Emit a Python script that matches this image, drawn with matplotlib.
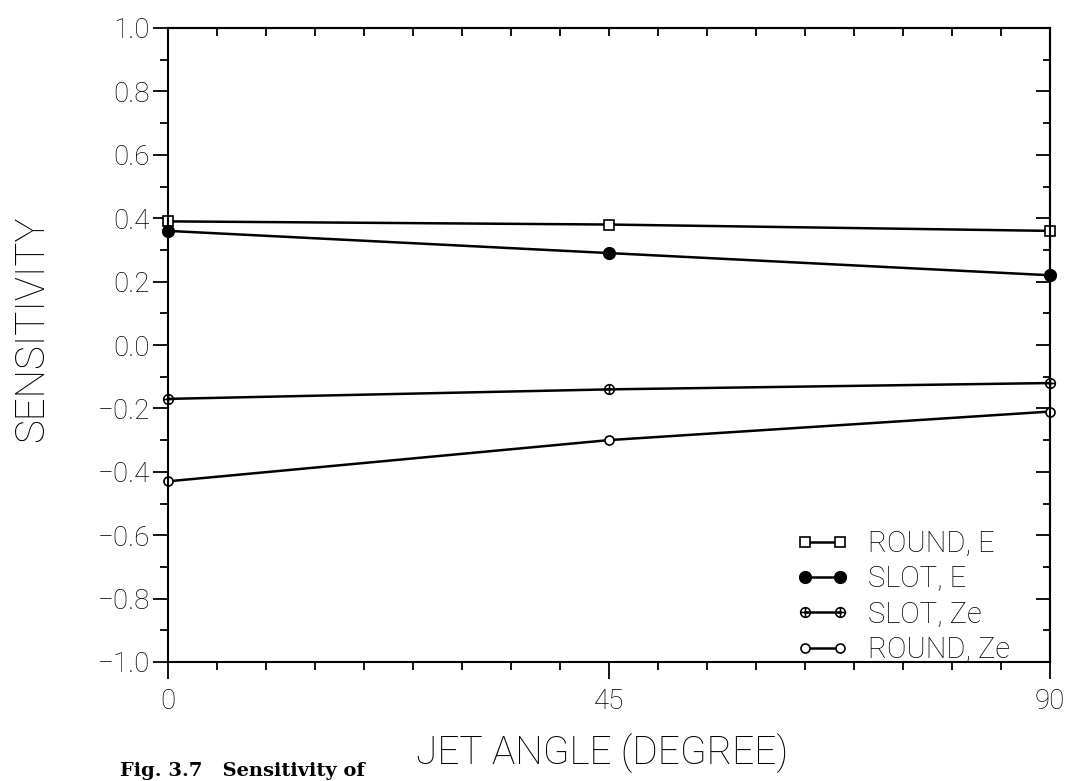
import numpy as np
import matplotlib.pyplot as plt
from matplotlib.ticker import MultipleLocator, FixedLocator, NullFormatter
from matplotlib.path import Path

# sensitivity vs. jet angle
jet_angle = [0, 45, 90]
round_e = [0.39, 0.38, 0.36]
slot_e = [0.36, 0.29, 0.22]
slot_ze = [-0.17, -0.14, -0.12]
round_ze = [-0.43, -0.30, -0.21]
series_labels = ['ROUND, E', 'SLOT, E', 'SLOT, Ze', 'ROUND, Ze']
x_ticks = [0, 45, 90]
y_ticks = [1.0, 0.8, 0.6, 0.4, 0.2, 0.0, -0.2, -0.4, -0.6, -0.8, -1.0]

FONT = ['Roboto', 'DejaVu Sans']
plt.rcParams['font.family'] = FONT
plt.rcParams['font.weight'] = 'light'

W, H = 1071, 781
fig = plt.figure(figsize=(W / 100, H / 100), dpi=100)
# plot frame in pixels: left 168, right 1050, top 28, bottom 662
ax = fig.add_axes([168 / W, (H - 662) / H, (1050 - 168) / W, (662 - 28) / H])

# circle with a cross through it
oplus = Path.make_compound_path(
    Path.unit_circle(),
    Path([(-1, 0), (1, 0), (0, -1), (0, 1)],
         [Path.MOVETO, Path.LINETO, Path.MOVETO, Path.LINETO]))

lw = 1.8
ax.plot(jet_angle, round_e, '-', color='k', lw=lw, marker='s', ms=7.5,
        mfc='white', mec='k', mew=1.2, label=series_labels[0], clip_on=False)
ax.plot(jet_angle, slot_e, '-', color='k', lw=lw, marker='o', ms=8.5,
        mfc='k', mec='k', label=series_labels[1], clip_on=False)
ax.plot(jet_angle, slot_ze, '-', color='k', lw=lw, marker=oplus, ms=7,
        mfc='none', mec='k', mew=1.1, label=series_labels[2], clip_on=False)
ax.plot(jet_angle, round_ze, '-', color='k', lw=lw, marker='o', ms=6.5,
        mfc='white', mec='k', mew=1.2, label=series_labels[3], clip_on=False)

ax.set_xlim(0, 90)
ax.set_ylim(-1.0, 1.0)

for s in ax.spines.values():
    s.set_linewidth(1.5)

ax.xaxis.set_major_locator(FixedLocator(x_ticks))
ax.xaxis.set_minor_locator(MultipleLocator(5))
ax.yaxis.set_major_locator(FixedLocator(y_ticks))
ax.yaxis.set_minor_locator(MultipleLocator(0.1))
ax.set_yticklabels([f'{v:.1f}'.replace('-', '\u2212') for v in y_ticks])
ax.set_xticklabels([str(v) for v in x_ticks])

ax.tick_params(axis='x', which='major', direction='out', length=12, width=1.3,
               pad=7, labelsize=20, top=False)
ax.tick_params(axis='x', which='minor', direction='out', length=6, width=1.3,
               top=False)
ax.tick_params(axis='y', which='major', direction='out', length=11, width=1.3,
               pad=2, labelsize=20, right=False)
ax.tick_params(axis='y', which='minor', direction='out', length=5.5, width=1.3,
               right=False)

# inward ticks on the top and right edges
top = ax.secondary_xaxis('top')
top.xaxis.set_major_locator(MultipleLocator(5))
top.xaxis.set_major_formatter(NullFormatter())
top.tick_params(direction='in', length=6, width=1.3)
top.spines['top'].set_linewidth(1.5)

right = ax.secondary_yaxis('right')
right.yaxis.set_major_locator(MultipleLocator(0.2))
right.yaxis.set_minor_locator(MultipleLocator(0.1))
right.yaxis.set_major_formatter(NullFormatter())
right.tick_params(which='major', direction='in', length=10, width=1.3)
right.tick_params(which='minor', direction='in', length=5, width=1.3)
right.spines['right'].set_linewidth(1.5)

fig.text(32 / W, 1 - 329 / H, 'SENSITIVITY', rotation=90, fontsize=29,
         ha='center', va='center')
fig.text(602 / W, 1 - 753 / H, 'JET ANGLE (DEGREE)', fontsize=28,
         ha='center', va='center')

leg = ax.legend(loc='upper left', bbox_to_anchor=(796 / W, 1 - 530 / H),
                bbox_transform=fig.transFigure, frameon=False, numpoints=2,
                fontsize=21, handlelength=1.8, handletextpad=0.67,
                labelspacing=0.25, borderpad=0, borderaxespad=0)

fig.text(120 / W, 1 - 780 / H, 'Fig. 3.7   Sensitivity of', fontsize=14,
         family=['DejaVu Serif'], weight='bold', ha='left', va='bottom')

fig.savefig('out.png', dpi=100)
